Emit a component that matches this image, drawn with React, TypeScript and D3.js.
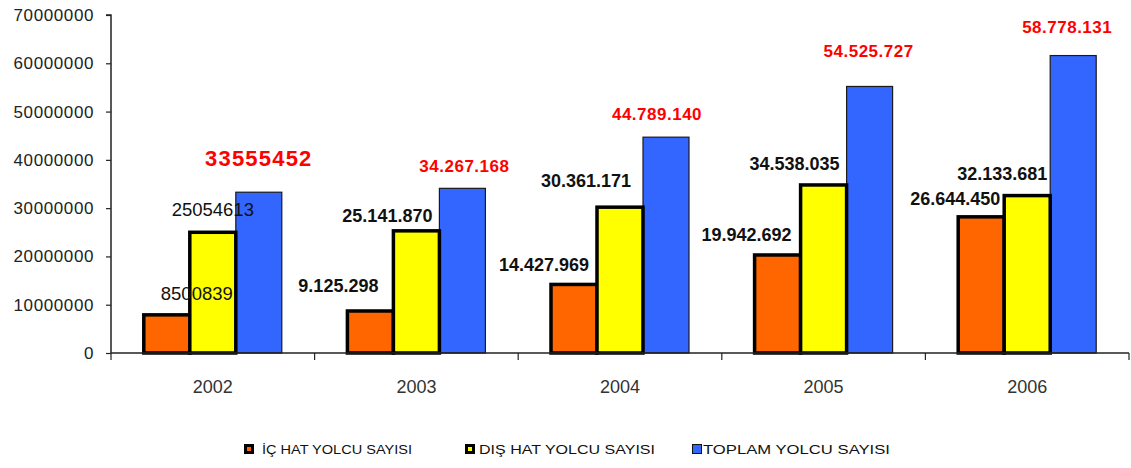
import { useEffect, useRef } from "react";
import * as d3 from "d3";

const years = ["2002", "2003", "2004", "2005", "2006"];
const series = ["ic", "dis", "toplam"];
const seriesNames = ["İÇ HAT YOLCU SAYISI", "DIŞ HAT YOLCU SAYISI", "TOPLAM YOLCU SAYISI"];

// bar heights as drawn
const icValues = [7900000, 8700000, 14200000, 20300000, 28200000];
const disValues = [25000000, 25300000, 30200000, 34800000, 32600000];
const toplamValues = [33300000, 34100000, 44700000, 55200000, 61600000];

// label texts as printed
const icLabels = ["8500839", "9.125.298", "14.427.969", "19.942.692", "26.644.450"];
const disLabels = ["25054613", "25.141.870", "30.361.171", "34.538.035", "32.133.681"];
const toplamLabels = ["33555452", "34.267.168", "44.789.140", "54.525.727", "58.778.131"];

const yTicks = [0, 10000000, 20000000, 30000000, 40000000, 50000000, 60000000, 70000000];

const colors = ["#FF6600", "#FFFF00", "#3366FF"];
const font = "'Liberation Sans', Arial, sans-serif";

// hand-placed label offsets (from bar center / bar top)
const labelDx = [
  [30, -32, -30, -31, -26],
  [0, -29, -34, -29, -25],
  [0, 2, -9, -1, -6],
];
const labelDy = [
  [-15, -19, -13, -14, -12],
  [-16, -9, -20, -15, -16],
  [-26, -16, -17, -29, -23],
];

export default function App() {
  const svgRef = useRef<SVGSVGElement>(null);

  useEffect(() => {
    if (!svgRef.current) return;
    const svg = d3.select(svgRef.current);
    svg.selectAll("*").remove();

    const left = 111;
    const right = 1129;
    const top = 15;
    const bottom = 353;

    const y = d3.scaleLinear().domain([0, 70000000]).range([bottom, top]);
    const x0 = d3.scaleBand().domain(years).range([left, right]).padding(0);
    const x1 = d3
      .scaleBand()
      .domain(series)
      .range([0, x0.bandwidth()])
      .paddingInner(0)
      .paddingOuter(0.713);

    const allValues = [icValues, disValues, toplamValues];
    const allLabels = [icLabels, disLabels, toplamLabels];

    // bars (blue first so the thick borders sit on top)
    [2, 0, 1].forEach((si) => {
      svg
        .append("g")
        .selectAll("rect")
        .data(allValues[si])
        .enter()
        .append("rect")
        .attr("x", (_, i) => x0(years[i])! + x1(series[si])!)
        .attr("y", (d) => y(d))
        .attr("width", x1.bandwidth())
        .attr("height", (d) => bottom - y(d))
        .attr("fill", colors[si])
        .attr("stroke", si === 2 ? "#1a1a1a" : "#000")
        .attr("stroke-width", si === 2 ? 1.2 : 3.5);
    });

    // y axis
    const yAxis = svg
      .append("g")
      .attr("transform", `translate(${left},0)`)
      .call(
        d3
          .axisLeft(y)
          .tickValues(yTicks)
          .tickSize(5)
          .tickPadding(12)
          .tickFormat((d) => `${d}`)
      );
    yAxis.select(".domain").attr("stroke", "#222").attr("stroke-width", 1.5).attr("d", `M-5,${top}H0V${bottom}`);
    yAxis.selectAll(".tick line").attr("stroke", "#222").attr("stroke-width", 1.2);
    yAxis
      .selectAll(".tick text")
      .attr("font-family", font)
      .attr("font-size", 17)
      .attr("letter-spacing", 0.6)
      .attr("fill", "#222");

    // x axis with ticks at category boundaries
    const xg = svg.append("g");
    xg.append("line")
      .attr("x1", left)
      .attr("x2", right)
      .attr("y1", bottom)
      .attr("y2", bottom)
      .attr("stroke", "#222")
      .attr("stroke-width", 1.5);
    const bounds = years.map((yr) => x0(yr)!).concat([right]);
    xg.selectAll("line.tick")
      .data(bounds)
      .enter()
      .append("line")
      .attr("class", "tick")
      .attr("x1", (d) => d)
      .attr("x2", (d) => d)
      .attr("y1", bottom)
      .attr("y2", bottom + 7)
      .attr("stroke", "#222")
      .attr("stroke-width", 1.2);
    xg.selectAll("text")
      .data(years)
      .enter()
      .append("text")
      .attr("x", (d) => x0(d)! + x0.bandwidth() / 2)
      .attr("y", 393)
      .attr("text-anchor", "middle")
      .attr("font-family", font)
      .attr("font-size", 18)
      .attr("fill", "#333")
      .text((d) => d);

    // value labels
    [0, 1, 2].forEach((si) => {
      svg
        .append("g")
        .selectAll("text")
        .data(allLabels[si])
        .enter()
        .append("text")
        .attr("x", (_, i) => x0(years[i])! + x1(series[si])! + x1.bandwidth() / 2 + labelDx[si][i])
        .attr("y", (_, i) => y(allValues[si][i]) + labelDy[si][i])
        .attr("text-anchor", "middle")
        .attr("font-family", font)
        .attr("font-weight", (_, i) => (i === 0 && si < 2 ? "normal" : "bold"))
        .attr("font-size", (_, i) => (si === 2 ? (i === 0 ? 22 : 17) : i === 0 ? 18.5 : 18))
        .attr("letter-spacing", (_, i) => (si === 2 ? (i === 0 ? 1.2 : 0.5) : 0))
        .attr("fill", si === 2 ? "#FF0000" : "#111")
        .text((d) => d);
    });

    // legend
    const legendSquareX = [244, 465, 692];
    const legendTextX = [262, 479, 703];
    const legendTextW = [150, 176, 187];
    const legend = svg.append("g");
    seriesNames.forEach((name, i) => {
      if (i < 2) {
        legend
          .append("rect")
          .attr("x", legendSquareX[i] + 1.5)
          .attr("y", 445.5)
          .attr("width", 7)
          .attr("height", 7)
          .attr("fill", colors[i])
          .attr("stroke", "#000")
          .attr("stroke-width", 3);
      } else {
        legend
          .append("rect")
          .attr("x", legendSquareX[i] + 0.5)
          .attr("y", 444.5)
          .attr("width", 9)
          .attr("height", 9)
          .attr("fill", colors[i])
          .attr("stroke", "#111")
          .attr("stroke-width", 1);
      }
      legend
        .append("text")
        .attr("x", legendTextX[i])
        .attr("y", 454)
        .attr("font-family", font)
        .attr("font-size", 13.5)
        .attr("fill", "#111")
        .attr("textLength", legendTextW[i])
        .attr("lengthAdjust", "spacingAndGlyphs")
        .text(name);
    });
  }, []);

  return (
    <div style={{ position: "absolute", left: 0, top: 0, width: 1131, height: 468, background: "#fff" }}>
      <svg ref={svgRef} width={1131} height={468} style={{ display: "block" }} />
    </div>
  );
}
